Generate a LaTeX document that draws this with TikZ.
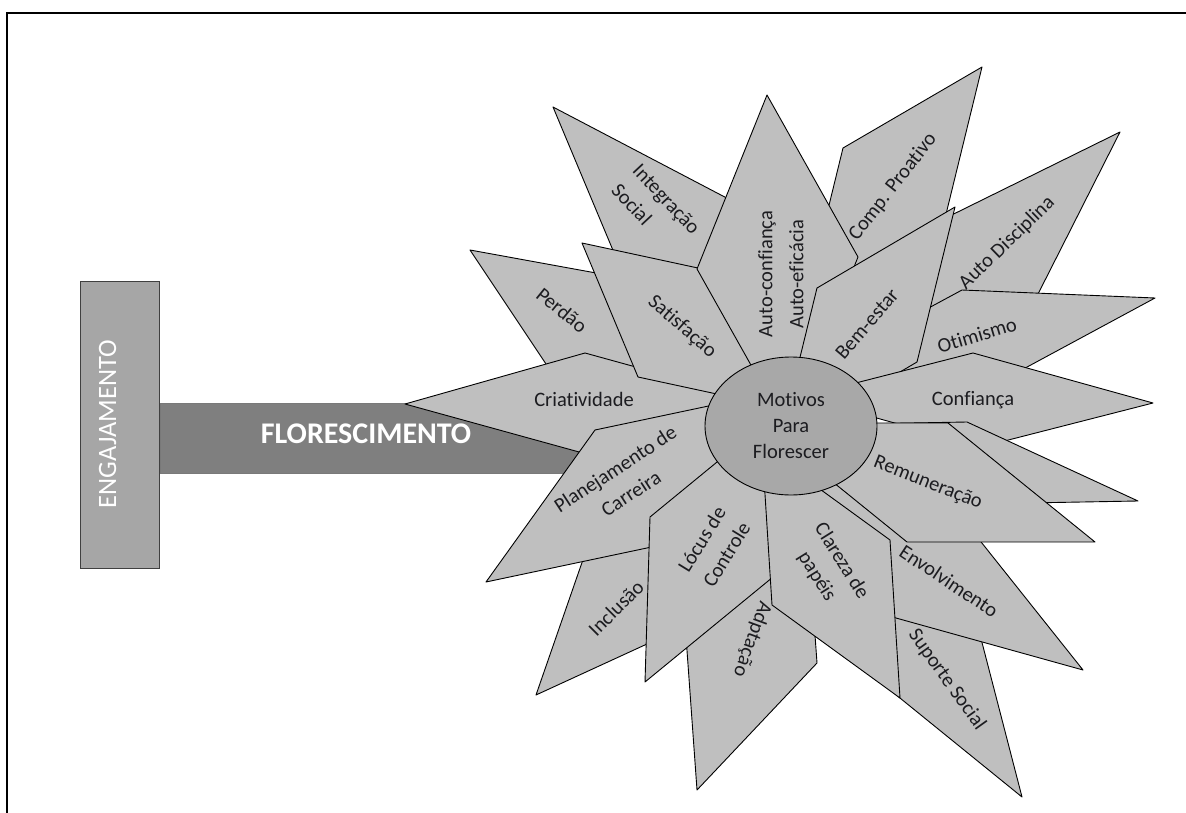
\documentclass[tikz,border=0pt]{standalone}
\usepackage{fontspec}
\setmainfont{Carlito}[Ligatures=NoCommon]
\usepackage{tikz}
\usetikzlibrary{shapes.geometric}
\definecolor{petalgray}{RGB}{191,191,191}
\definecolor{centergray}{RGB}{168,168,168}
\definecolor{stemgray}{RGB}{127,127,127}
\definecolor{boxgray}{RGB}{166,166,166}
\definecolor{boxedge}{RGB}{64,64,64}
\definecolor{labeltext}{RGB}{28,28,32}

\begin{document}
\begin{tikzpicture}[x=1pt,y=-1pt]
        \tikzstyle{petal}=[draw=black,fill=petalgray,line width=0.9pt,line join=round]
        \tikzstyle{petal label}=[font=\fontsize{20.5}{29}\selectfont,text=labeltext,align=center,inner sep=0pt]
        \useasboundingbox (0,0) rectangle (1186,813);
        \draw[line width=2pt] (7,813) -- (7,13) -- (1186,13);

        \node[draw=boxedge,fill=boxgray,line width=1.5pt,minimum width=79pt,minimum height=287pt,inner sep=0pt] (Engajamento) at (120,425) {};
        \node[rotate=90,text=white,font=\fontsize{26.5}{30}\selectfont] (EngajamentoText) at (107.5,424) {ENGAJAMENTO};
        \node[draw=boxedge!70,fill=stemgray,line width=1pt,minimum width=460pt,minimum height=70pt,inner sep=0pt,anchor=west] (Stem) at (160,438) {};
        \node[text=white,font=\fontsize{30}{30}\bfseries\selectfont] (Florescimento) at (366,434) {FLORESCIMENTO};

        \draw[petal] (470,250) -- (640,281) -- (730,416) -- (560,385) -- cycle;
        \draw[petal] (553,107) -- (740,205) -- (830,420) -- (643,322) -- cycle;
        \draw[petal] (405,404) -- (585,353) -- (770,404) -- (590,455) -- cycle;
        \draw[petal] (582,243) -- (735,276) -- (791,410) -- (638,377) -- cycle;
        \draw[petal] (982,67) -- (926,296) -- (787,377) -- (843,148) -- cycle;
        \draw[petal] (767,95) -- (858,257) -- (788,431) -- (697,269) -- cycle;
        \draw[petal] (1120,132) -- (1036,298) -- (821,404) -- (905,238) -- cycle;
        \draw[petal] (1155,298) -- (1003,380) -- (810,372) -- (962,290) -- cycle;
        \draw[petal] (955,207) -- (917,362) -- (779,443) -- (817,288) -- cycle;
        \draw[petal] (1153,403) -- (981,447) -- (801,397) -- (973,353) -- cycle;
        \draw[petal] (1138,501) -- (971,504) -- (800,425) -- (967,422) -- cycle;
        \draw[petal] (1022,797) -- (858,664) -- (800,440) -- (964,573) -- cycle;
        \draw[petal] (1083,670) -- (878,613) -- (757,461) -- (962,518) -- cycle;
        \draw[petal] (1095,542) -- (948,423) -- (760,423) -- (907,542) -- cycle;
        \draw[petal] (536,695) -- (595,525) -- (780,440) -- (721,610) -- cycle;
        \draw[petal] (486,582) -- (595,430) -- (789,389) -- (680,541) -- cycle;
        \draw[petal] (697,790) -- (680,553) -- (800,426) -- (817,663) -- cycle;
        \draw[petal] (645,682) -- (650,517) -- (778,412) -- (773,577) -- cycle;
        \draw[petal] (900,698) -- (772,605) -- (762,447) -- (890,540) -- cycle;

        \node[ellipse,draw=black,fill=centergray,line width=0.9pt,minimum width=172pt,minimum height=138pt,inner sep=0pt,
              font=\fontsize{20.5}{26}\selectfont,text=labeltext,align=center] (Motivos) at (791,426) {Motivos\\Para\\Florescer};

        \node[petal label] (Criatividade) at (584,399) {Criatividade};
        \node[petal label,rotate=-39] (Perdao) at (562,310) {Perdão};
        \node[petal label,rotate=-41] (Satisfacao) at (682,327) {Satisfação};
        \node[petal label,rotate=-47,align=left] (Integracao) at (656,209) {Integração\\Social};
        \node[petal label,rotate=90,font=\fontsize{20.5}{31}\selectfont] (AutoConfianca) at (781,274) {Auto-confiança\\Auto-eficácia};
        \node[petal label,rotate=52] (CompProativo) at (893,187) {Comp. Proativo};
        \node[petal label,rotate=44] (AutoDisciplina) at (1007,243) {Auto Disciplina};
        \node[petal label,rotate=49.5] (BemEstar) at (867,324) {Bem-estar};
        \node[petal label,rotate=16.6] (Otimismo) at (977,335) {Otimismo};
        \node[petal label] (Confianca) at (973,400) {Confiança};
        \node[petal label,rotate=-21.5] (Remuneracao) at (928,483) {Remuneração};
        \node[petal label,rotate=-33.5] (Envolvimento) at (949,581) {Envolvimento};
        \node[petal label,rotate=-54.5] (SuporteSocial) at (947,680) {Suporte Social};
        \node[petal label,rotate=-58] (Clareza) at (829,569) {Clareza de\\papéis};
        \node[petal label,rotate=-110] (Adaptacao) at (752,639) {Adptação};
        \node[petal label,rotate=58.4] (Locus) at (714,547) {Lócus de\\Controle};
        \node[petal label,rotate=45] (Inclusao) at (616,608) {Inclusão};
        \node[petal label,rotate=33] (Planejamento) at (623,481) {Planejamento de\\Carreira};
\end{tikzpicture}
\end{document}
